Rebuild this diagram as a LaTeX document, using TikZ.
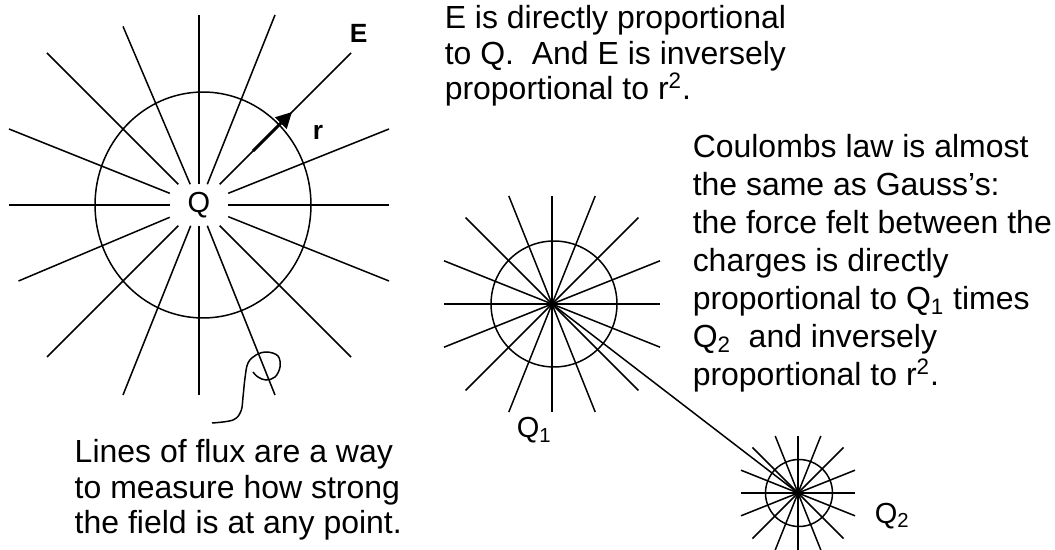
\documentclass[tikz,border=0pt]{standalone}
\usepackage{fontspec}
\setmainfont{Liberation Sans}
\usetikzlibrary{arrows.meta, calc}

\begin{document}
\begin{tikzpicture}[
  x=0.02cm, y=-0.02cm, line width=0.85pt,
  txt/.style={anchor=north west, align=left, inner sep=0pt, font=\fontsize{18.2}{20.2}\selectfont},
  charge/.style={inner sep=0pt, font=\fontsize{16.5}{18}\selectfont},
  vec/.style={anchor=base west, inner sep=0pt, font=\fontsize{15}{18}\selectfont\bfseries},
  rvec/.style={line width=1.7pt, -{Triangle[length=9pt, width=9pt]}}
]
\useasboundingbox (0,0) rectangle (1055,550);

% Charge Q and its lines of flux
\node[charge, minimum width=1.14cm, minimum height=0.8cm] (Q) at (199,205) {Q};
\draw (203,205) ellipse [x radius=2.16cm, y radius=2.26cm];
\foreach \dx/\dy in {1/0, 1/0.4, 0.8/0.8, 0.4/1, 0/1, -0.4/1, -0.8/0.8, -0.95/0.4,
                     -1/0, -1/-0.4, -0.8/-0.8, -0.4/-0.94, 0/-1, 0.4/-1, 0.8/-0.8, 1/-0.4} {
  \draw (Q) -- ($(Q.center)+({\dx*190},{\dy*190})$);
}

% Field vector E and radius r
\coordinate (rtail) at (253,151);
\coordinate (rtip) at (292,112);
\draw[rvec] (rtail) -- (rtip);
\node[vec] (Elbl) at (349,43) {E};
\node[vec] (rlbl) at (312,140) {r};

% Pointer to one line
\draw plot[smooth, tension=0.6] coordinates {(212,423) (233,420) (241,411) (243,397) (245,378)
  (248,363) (256,355) (267,352) (278,356) (280,367) (275,377) (266,380) (258,377) (253,372)};

% Charges Q1 and Q2
\coordinate (q1) at (552,304);
\coordinate (q2) at (798,493);
\draw (554,304) circle [radius=1.26cm];
\draw (799,493) circle [radius=0.67cm];
\foreach \dx/\dy in {1/0, 1/0.4, 0.8/0.8, 0.4/1, 0/1, -0.4/1, -0.8/0.8, -1/0.4,
                     -1/0, -1/-0.4, -0.8/-0.8, -0.4/-1, 0/-1, 0.4/-1, 0.8/-0.8, 1/-0.4} {
  \draw (q1) -- ++({\dx*108},{\dy*108});
  \draw (q2) -- ++({\dx*57},{\dy*57});
}
\draw (q1) -- (q2);
\node[charge, anchor=base west] (q1lbl) at (516,438) {Q\textsubscript{1}};
\node[charge, anchor=base west] (q2lbl) at (874,523) {Q\textsubscript{2}};

% Text
\node[txt] (eprop) at (444,5) {E is directly proportional\\to Q.\ \ And E is inversely\\proportional to r\textsuperscript{2}.};
\node[txt, font=\fontsize{18.2}{21.6}\selectfont] (coulomb) at (692,134) {Coulombs law is almost\\the same as Gauss’s:\\the force felt between the\\charges is directly\\proportional to Q\textsubscript{1} times\\Q\textsubscript{2}\ \ and inversely\\proportional to r\textsuperscript{2}.};
\node[txt] (fluxnote) at (74,439) {Lines of flux are a way\\to measure how strong\\the field is at any point.};

\end{tikzpicture}
\end{document}
